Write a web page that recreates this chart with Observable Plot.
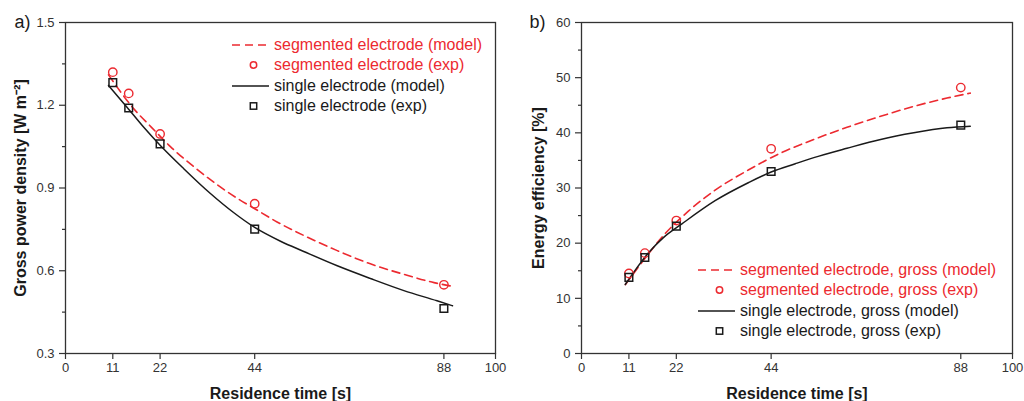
<!DOCTYPE html>
<html><head><meta charset="utf-8">
<script src="https://cdn.jsdelivr.net/npm/d3@7"></script>
<script src="https://cdn.jsdelivr.net/npm/@observablehq/plot@0.6"></script>
<style>
body{margin:0;background:#fff;font-family:Arial,"Liberation Sans",sans-serif;}
#wrap{display:flex;width:1024px;height:401px;}
.panel{position:relative;width:512px;height:401px;}
.legend{position:absolute;font-size:16px;line-height:20.3px;}
.legend .row{display:flex;align-items:center;height:20.3px;white-space:nowrap;}
.legend svg{flex:none;margin-right:5px;}
</style></head><body>
<div id="wrap"><div class="panel" id="pa"></div><div class="panel" id="pb"></div></div>
<script>
// ---------- data ----------
const xTicks = [0, 11, 22, 44, 88, 100];
const expTime = [11, 14.7, 22, 44, 88];

// panel a) gross power density [W m-2]
const powerSegExp = [1.32, 1.243, 1.096, 0.843, 0.549];
const powerSingleExp = [1.282, 1.19, 1.06, 0.751, 0.463];
const powerSegModelTime = [10, 16, 20, 24.4, 30, 35, 40, 44, 49.2, 55.4, 63.2, 70.9, 78.7, 85.7, 89.5];
const powerSegModel =     [1.31, 1.185, 1.12, 1.05, 0.975, 0.915, 0.862, 0.825, 0.777, 0.728, 0.673, 0.625, 0.587, 0.557, 0.545];
const powerSingleModelTime = [10, 14.3, 18.2, 22, 27.5, 33.7, 39, 44, 50, 55.4, 63.2, 70.9, 78.7, 86.4, 90];
const powerSingleModel =     [1.272, 1.193, 1.12, 1.055, 0.97, 0.88, 0.812, 0.757, 0.707, 0.67, 0.618, 0.572, 0.528, 0.491, 0.473];
const powerMajor = [0.3, 0.6, 0.9, 1.2, 1.5];
const powerMinor = [0.45, 0.75, 1.05, 1.35];

// panel b) energy efficiency [%]
const effSegExp = [14.5, 18.2, 24.1, 37.1, 48.2];
const effSingleExp = [13.8, 17.4, 23.1, 33.0, 41.4];
const effSegModelTime = [10.2, 14.7, 17.9, 24.8, 31, 38.8, 46.1, 53.9, 61.6, 69.4, 77.1, 84.8, 90.2];
const effSegModel =     [12.5, 17.2, 20.4, 25.8, 29.6, 33.3, 36.3, 38.8, 41.0, 43.0, 44.8, 46.3, 47.2];
const effSingleModelTime = [10.15, 15.6, 19, 23.3, 31, 38.8, 44, 49.6, 53.9, 61.6, 69.4, 77.1, 84.8, 90.2];
const effSingleModel =     [12.5, 18.3, 21.0, 23.5, 27.7, 31.0, 32.9, 34.4, 35.5, 37.2, 38.8, 40.0, 40.9, 41.2];
const effMajor = [0, 10, 20, 30, 40, 50, 60];
const effMinor = [5, 15, 25, 35, 45, 55];

const legendA = ["segmented electrode (model)", "segmented electrode (exp)", "single electrode (model)", "single electrode (exp)"];
const legendB = ["segmented electrode, gross (model)", "segmented electrode, gross (exp)", "single electrode, gross (model)", "single electrode, gross (exp)"];

// ---------- style ----------
const RED = "#ec2a30";
const INK = "#1a1a1a";
const AX = "#333";

function pts(xs, ys) { return xs.map((x, i) => ({x, y: ys[i]})); }

function panel(opts) {
  const {ml, mr, yDomain, major, minor, fmt, yLabel, tag, tagDx, yLabelDx,
         segModel, singleModel, segExp, singleExp} = opts;
  return Plot.plot({
    width: 512, height: 401,
    marginLeft: ml, marginRight: mr, marginTop: 22, marginBottom: 48,
    style: {fontFamily: "Arial, 'Liberation Sans', sans-serif", fontSize: "13px", color: AX, background: "white", overflow: "visible"},
    x: {domain: [0, 100]},
    y: {domain: yDomain},
    marks: [
      Plot.axisX({ticks: xTicks, tickSize: 6, tickPadding: 3, label: null, tickFormat: d => String(d), strokeWidth: 1.2}),
      Plot.axisY({ticks: major, tickSize: 6, tickPadding: 5, label: null, tickFormat: fmt, strokeWidth: 1.2}),
      Plot.axisY({ticks: minor, tickSize: 3, label: null, tickFormat: () => "", strokeWidth: 1.2}),
      Plot.frame({stroke: AX, strokeWidth: 1.3}),
      Plot.line(segModel, {x: "x", y: "y", stroke: RED, strokeWidth: 1.6, strokeDasharray: "8,5", curve: "monotone-x"}),
      Plot.line(singleModel, {x: "x", y: "y", stroke: INK, strokeWidth: 1.5, curve: "monotone-x"}),
      Plot.dot(segExp, {x: "x", y: "y", r: 4.2, stroke: RED, strokeWidth: 1.4, fill: "none"}),
      Plot.dot(singleExp, {x: "x", y: "y", r: 4.3, symbol: "square", stroke: INK, strokeWidth: 1.5, fill: "none"}),
      Plot.text([yLabel], {frameAnchor: "left", dx: yLabelDx, rotate: -90, textAnchor: "middle", lineAnchor: "middle", fontWeight: "bold", fontSize: 16, fill: INK}),
      Plot.text(["Residence time [s]"], {frameAnchor: "bottom", dy: 40, textAnchor: "middle", lineAnchor: "middle", fontWeight: "bold", fontSize: 16, fill: INK}),
      Plot.text([tag], {frameAnchor: "top-left", dx: tagDx, dy: 0, textAnchor: "middle", lineAnchor: "middle", fontSize: 18, fill: INK})
    ]
  });
}

function swatch(kind) {
  const w = 37, h = 14;
  if (kind === 0) return `<svg width="${w}" height="${h}"><line x1="0" x2="${w}" y1="7" y2="7" stroke="${RED}" stroke-width="1.6" stroke-dasharray="8,5"/></svg>`;
  if (kind === 1) return `<svg width="${w}" height="${h}"><circle cx="${w/2+3}" cy="7" r="3.2" fill="none" stroke="${RED}" stroke-width="1.5"/></svg>`;
  if (kind === 2) return `<svg width="${w}" height="${h}"><line x1="0" x2="${w}" y1="7" y2="7" stroke="${INK}" stroke-width="1.5"/></svg>`;
  return `<svg width="${w}" height="${h}"><rect x="${w/2+3-3.2}" y="3.8" width="6.4" height="6.4" fill="none" stroke="${INK}" stroke-width="1.5"/></svg>`;
}

function legend(container, labels, left, top) {
  const div = document.createElement("div");
  div.className = "legend";
  div.style.left = left + "px";
  div.style.top = top + "px";
  labels.forEach((t, i) => {
    const row = document.createElement("div");
    row.className = "row";
    row.style.color = i < 2 ? RED : INK;
    row.innerHTML = swatch(i) + `<span>${t}</span>`;
    div.appendChild(row);
  });
  container.appendChild(div);
}

const pa = document.getElementById("pa");
pa.appendChild(panel({
  ml: 65, mr: 17, yDomain: [0.3, 1.5], major: powerMajor, minor: powerMinor,
  fmt: d3.format(".1f"), yLabel: "Gross power density [W m\u207B\u00B2]", tag: "a)", tagDx: -43, yLabelDx: -45,
  segModel: pts(powerSegModelTime, powerSegModel), singleModel: pts(powerSingleModelTime, powerSingleModel),
  segExp: pts(expTime, powerSegExp), singleExp: pts(expTime, powerSingleExp)
}));
legend(pa, legendA, 232, 35);

const pb = document.getElementById("pb");
pb.appendChild(panel({
  ml: 69, mr: 12, yDomain: [0, 60], major: effMajor, minor: effMinor,
  fmt: d3.format("d"), yLabel: "Energy efficiency [%]", tag: "b)", tagDx: -44, yLabelDx: -42.5,
  segModel: pts(effSegModelTime, effSegModel), singleModel: pts(effSingleModelTime, effSingleModel),
  segExp: pts(expTime, effSegExp), singleExp: pts(expTime, effSingleExp)
}));
legend(pb, legendB, 186, 260);
</script>
</body></html>
